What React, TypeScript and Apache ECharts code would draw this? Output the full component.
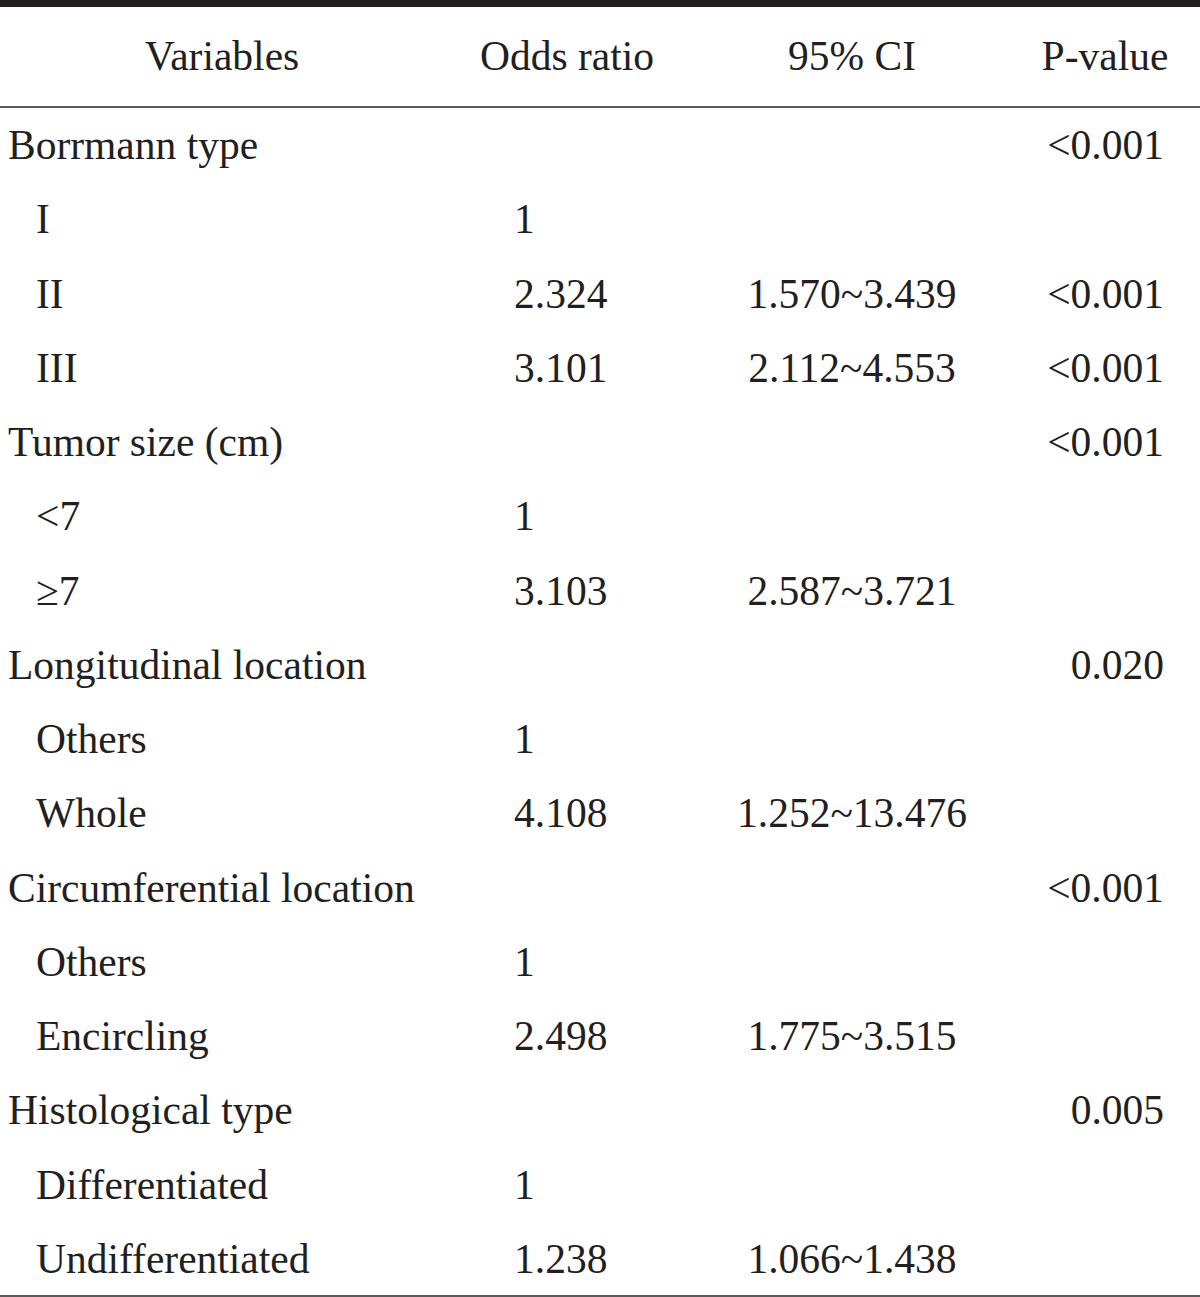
import React, { useEffect, useRef } from "react";
import * as echarts from "echarts";

const headers = ["Variables", "Odds ratio", "95% CI", "P-value"];
const variables = [
  "Borrmann type", "I", "II", "III",
  "Tumor size (cm)", "<7", "≥7",
  "Longitudinal location", "Others", "Whole",
  "Circumferential location", "Others", "Encircling",
  "Histological type", "Differentiated", "Undifferentiated",
];
const isGroup = [true, false, false, false, true, false, false, true, false, false, true, false, false, true, false, false];
const oddsRatios = ["", "1", "2.324", "3.101", "", "1", "3.103", "", "1", "4.108", "", "1", "2.498", "", "1", "1.238"];
const confIntervals = ["", "", "1.570~3.439", "2.112~4.553", "", "", "2.587~3.721", "", "", "1.252~13.476", "", "", "1.775~3.515", "", "", "1.066~1.438"];
const pValues = ["<0.001", "", "<0.001", "<0.001", "<0.001", "", "", "0.020", "", "", "<0.001", "", "", "0.005", "", ""];

const W = 1200;
const H = 1297;
const FONT = "'Liberation Serif', 'Times New Roman', serif";
const FS = 41.5;
const COLOR = "#231f20";

export default function App() {
  const ref = useRef<HTMLDivElement>(null);
  useEffect(() => {
    if (!ref.current) return;
    const chart = echarts.init(ref.current, undefined, { renderer: "svg", width: W, height: H });
    const headerY = 56;
    const firstRowY = 145;
    const rowStep = (1259 - 145) / 15;
    const elements: any[] = [];
    const txt = (text: string, x: number, y: number, align: string) => ({
      type: "text",
      x,
      y,
      style: {
        text,
        fill: COLOR,
        font: `${FS}px ${FONT}`,
        textAlign: align,
        textVerticalAlign: "middle",
      },
    });
    // rules
    elements.push({ type: "rect", shape: { x: 0, y: 0, width: W, height: 7 }, style: { fill: COLOR } });
    elements.push({ type: "rect", shape: { x: 0, y: 106, width: W, height: 2 }, style: { fill: "#5a5a5a" } });
    elements.push({ type: "rect", shape: { x: 0, y: 1295, width: W, height: 2 }, style: { fill: "#5a5a5a" } });
    // headers
    const headerX = [222, 567, 852, 1105];
    headers.forEach((h, i) => elements.push(txt(h, headerX[i], headerY, "center")));
    variables.forEach((v, i) => {
      const y = firstRowY + i * rowStep;
      elements.push(txt(v, isGroup[i] ? 8 : 36, y, "left"));
      if (oddsRatios[i]) elements.push(txt(oddsRatios[i], 514, y, "left"));
      if (confIntervals[i]) elements.push(txt(confIntervals[i], 852, y, "center"));
      if (pValues[i]) elements.push(txt(pValues[i], 1164, y, "right"));
    });
    chart.setOption({ animation: false, backgroundColor: "#ffffff", graphic: { elements } });
    return () => chart.dispose();
  }, []);
  return <div ref={ref} style={{ position: "absolute", left: 0, top: 0, width: W, height: H }} />;
}
